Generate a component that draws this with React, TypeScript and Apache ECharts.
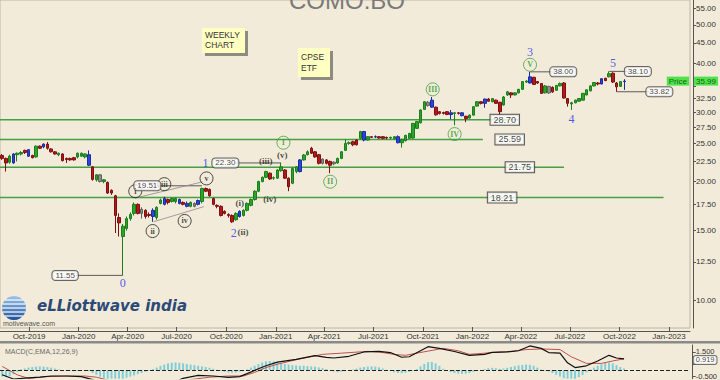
import React, { useEffect, useRef } from 'react';
import * as echarts from 'echarts';

const BG = '#f3ebd9';
const DAY = 86400000;
const WEEK = 7 * DAY;
const FIRST_WEEK = Date.UTC(2019, 7, 12);
const X_MIN = Date.UTC(2019, 7, 8);
const X_MAX = Date.UTC(2023, 1, 9);
const Y_MIN = 8.49;
const Y_MAX = 57.85;

// weekly candles: [open, close, low, high], first week 2019-08-12
const ohlc: number[][] = [
  [23.3, 22.9, 22.7, 23.5], [22.9, 22.3, 21.2, 23.0], [22.4, 23.2, 22.2, 23.4], [22.3, 23.5, 22.2, 23.6],
  [23.4, 23.6, 22.5, 23.7], [23.5, 23.7, 23.3, 23.9], [24.0, 23.7, 23.5, 24.1], [23.2, 24.1, 23.1, 24.2],
  [23.3, 23.0, 22.9, 23.4], [23.1, 24.6, 23.0, 24.7], [24.6, 24.3, 24.2, 24.7], [24.5, 24.9, 24.3, 25.0],
  [24.9, 24.3, 24.1, 25.2], [24.2, 23.8, 23.7, 24.3], [23.8, 23.5, 23.4, 23.9], [23.4, 23.6, 23.2, 23.7],
  [23.5, 22.6, 22.5, 23.6], [22.9, 22.75, 22.3, 23.0], [22.9, 22.7, 22.6, 23.0], [23.0, 22.7, 22.6, 23.1],
  [23.1, 23.6, 22.9, 23.7], [23.2, 23.6, 23.1, 23.7], [23.1, 23.5, 22.9, 23.6], [23.4, 22.0, 21.9, 24.0],
  [21.8, 20.25, 20.1, 21.9], [20.2, 20.8, 20.0, 20.9], [20.8, 20.0, 19.9, 20.9], [20.0, 20.2, 19.8, 20.3],
  [19.9, 18.7, 18.6, 20.0], [19.0, 18.7, 18.5, 19.1], [18.4, 16.4, 14.8, 18.5], [16.2, 15.7, 14.5, 16.6],
  [14.5, 15.4, 11.55, 15.6], [15.2, 16.1, 15.0, 16.3], [16.1, 16.5, 15.9, 16.7], [16.6, 17.5, 16.4, 17.7],
  [17.5, 16.6, 16.5, 17.6], [16.6, 17.0, 16.1, 17.2], [16.9, 16.3, 16.1, 17.0], [16.5, 16.4, 16.2, 16.7],
  [16.3, 16.9, 15.8, 17.1], [16.2, 17.2, 16.0, 17.3], [17.6, 17.95, 17.5, 18.1], [17.5, 18.1, 17.4, 18.3],
  [18.0, 17.7, 17.5, 18.1], [17.8, 18.1, 17.7, 18.2], [17.8, 18.1, 17.6, 18.2], [18.0, 17.6, 17.5, 18.1],
  [17.7, 17.5, 17.4, 17.8], [17.6, 17.3, 17.2, 17.8], [17.3, 17.7, 17.2, 17.8], [17.6, 17.3, 17.2, 17.7],
  [17.5, 17.9, 17.4, 18.0], [17.8, 19.2, 17.6, 19.3], [19.2, 18.9, 18.8, 19.3], [19.1, 18.4, 18.3, 19.2],
  [18.1, 17.5, 17.4, 18.2], [17.4, 17.3, 17.1, 17.5], [17.3, 16.4, 16.3, 17.4], [16.8, 16.6, 16.5, 16.9],
  [16.5, 16.4, 16.2, 16.6], [16.4, 15.8, 15.7, 16.5], [16.0, 16.6, 15.9, 16.7], [16.3, 16.8, 16.2, 16.9],
  [16.4, 16.9, 16.3, 17.0], [16.9, 17.6, 16.8, 17.7], [17.4, 18.0, 17.3, 18.1], [18.0, 18.9, 17.9, 19.0],
  [18.9, 20.0, 18.8, 20.1], [20.0, 20.5, 19.9, 20.6], [20.5, 21.2, 20.4, 21.3], [21.0, 20.3, 20.2, 21.1],
  [20.4, 20.45, 20.2, 20.6], [20.4, 21.4, 20.3, 21.5], [21.3, 21.8, 21.2, 22.3], [21.4, 20.4, 20.3, 21.5],
  [20.4, 19.4, 18.9, 20.5], [19.8, 21.6, 19.7, 21.7], [21.2, 21.8, 21.0, 21.9], [21.2, 22.7, 21.1, 22.8],
  [22.7, 23.36, 22.6, 23.5], [23.4, 23.8, 23.3, 24.0], [24.3, 23.6, 23.5, 24.5], [23.8, 23.1, 23.0, 23.9],
  [23.4, 22.25, 22.1, 23.5], [22.8, 22.25, 22.1, 22.9], [22.7, 22.25, 22.1, 22.8], [22.5, 22.0, 21.0, 22.6],
  [22.2, 22.4, 22.0, 22.5], [22.3, 22.9, 22.2, 23.0], [22.9, 23.8, 22.8, 23.9], [24.0, 25.0, 23.9, 25.6],
  [25.0, 25.1, 24.8, 25.3], [25.25, 24.8, 24.6, 25.4], [25.5, 24.8, 24.7, 25.6], [25.75, 26.8, 25.6, 26.9],
  [26.8, 25.5, 25.3, 26.9], [25.5, 26.0, 25.4, 26.1], [26.0, 25.9, 25.8, 26.1], [26.0, 25.95, 25.8, 26.2],
  [26.0, 25.8, 25.7, 26.1], [26.0, 25.75, 25.6, 26.1], [25.9, 25.8, 25.6, 26.0], [25.8, 25.9, 25.6, 26.0],
  [25.7, 26.0, 25.6, 26.1], [26.0, 25.1, 25.0, 26.2], [25.1, 25.6, 24.4, 25.7], [25.4, 26.2, 25.3, 26.3],
  [25.75, 26.5, 25.7, 26.6], [25.8, 28.1, 25.7, 28.2], [27.3, 28.4, 27.2, 28.5], [28.2, 30.4, 28.1, 30.5],
  [30.5, 31.9, 30.4, 32.0], [31.8, 31.2, 31.0, 32.0], [32.2, 30.9, 30.8, 32.8], [30.9, 29.55, 29.4, 31.0],
  [30.1, 29.8, 29.6, 30.2], [29.95, 29.8, 29.6, 30.1], [30.1, 29.6, 29.5, 30.2], [29.9, 29.6, 28.8, 30.4],
  [29.8, 29.9, 27.8, 30.0], [29.9, 29.8, 29.6, 30.0], [29.9, 29.4, 29.3, 30.0], [29.3, 28.9, 28.3, 29.4],
  [29.0, 29.5, 28.9, 29.6], [29.5, 31.0, 29.4, 31.1], [31.1, 31.9, 31.0, 32.0], [31.9, 31.6, 31.4, 32.0],
  [31.6, 32.4, 30.8, 32.5], [32.4, 32.0, 31.9, 32.6], [31.9, 32.5, 31.8, 32.6], [32.2, 31.6, 31.5, 32.3],
  [31.8, 30.1, 29.5, 31.9], [31.3, 32.8, 31.2, 33.0], [33.2, 33.8, 33.0, 34.0], [33.6, 33.2, 32.6, 33.7],
  [33.2, 33.6, 33.1, 33.7], [33.6, 34.3, 33.5, 34.4], [34.3, 35.9, 34.2, 36.0], [35.8, 36.0, 35.6, 36.2],
  [35.6, 36.9, 35.5, 38.0], [36.8, 35.3, 35.2, 36.9], [35.9, 35.6, 35.4, 36.0], [35.5, 33.5, 33.4, 35.6],
  [33.6, 35.0, 33.5, 35.2], [34.9, 33.6, 33.4, 35.0], [34.7, 33.8, 33.6, 34.9], [34.1, 35.1, 34.0, 35.2],
  [35.0, 35.5, 34.9, 35.7], [35.6, 32.6, 32.5, 35.8], [32.5, 31.6, 31.0, 32.6], [31.5, 31.7, 30.4, 31.9],
  [31.7, 32.2, 31.6, 32.3], [32.0, 32.5, 31.9, 32.6], [32.2, 33.5, 32.1, 33.6], [33.2, 34.2, 33.1, 34.3],
  [34.0, 35.0, 33.9, 35.1], [35.0, 35.7, 34.9, 35.8], [35.6, 35.4, 35.1, 35.8], [35.4, 36.5, 35.3, 36.6],
  [36.6, 36.1, 36.0, 36.7], [36.9, 37.6, 36.8, 38.1], [37.7, 35.8, 35.6, 37.9], [35.6, 34.8, 33.82, 35.8],
  [34.9, 35.9, 34.8, 36.0], [35.9, 35.99, 34.2, 36.4],
];
const blueCandles = [3, 7, 11, 23, 40, 43, 47, 49, 52, 63, 79, 96, 99, 105, 114, 119, 122, 128, 140, 159, 165];
const grayCandles = [26, 37, 51, 85, 88, 113, 145];

const lastPrice = 35.99;
const lastMacd = 0.919;

const xTickLabels = ['Oct-2019', 'Jan-2020', 'Apr-2020', 'Jul-2020', 'Oct-2020', 'Jan-2021', 'Apr-2021',
  'Jul-2021', 'Oct-2021', 'Jan-2022', 'Apr-2022', 'Jul-2022', 'Oct-2022', 'Jan-2023'];
const yTicks = [10, 12.5, 15, 17.5, 20, 22.5, 25, 27.5, 30, 32.5, 35, 40, 45, 50, 55];
// 35.00 sits under the last-price tag
const yTickLabels = [10, 12.5, 15, 17.5, 20, 22.5, 25, 27.5, 30, 32.5, 40, 45, 50, 55];
const macdTicks = [-0.5, 0.5, 1.5];
// 0.500 sits under the last-MACD tag
const macdTickLabels = [-0.5, 1.5];

// horizontal support levels
const levelValues = [28.70, 25.59, 21.75, 18.21];
const levelEndWeek = [137, 127.5, 149, 175.4];
const levelLabelWeek = [133.3, 134.6, 137.3, 132.6];

// price boxes with their connector lines
const boxText = ['11.55', '19.51', '22.30', '38.00', '38.10', '33.82'];
const boxValue = [11.55, 19.51, 22.30, 38.00, 38.10, 33.82];
const boxWeek = [16.7, 38.5, 59.2, 148.8, 168.6, 174.3];
const connFromWeek = [19.6, 41, 62, 140, 161, 163];
const connToWeek = [32, 53, 74, 146.2, 166, 171.7];

// wave labels
const waveNums = ['0', '1', '2', '3', '4', '5'];
const waveNumWeek = [32, 53.9, 61.4, 140, 151, 162];
const waveNumPrice = [11.05, 22.3, 14.8, 42.7, 28.8, 40.1];
const majorRoman = ['I', 'II', 'III', 'IV', 'V'];
const majorWeek = [74.6, 87, 114.2, 120, 140];
const majorPrice = [25.1, 19.98, 34.3, 26.4, 39.6];
const minorRoman = ['i', 'ii', 'iii', 'iv', 'v'];
const minorWeek = [35.3, 39.9, 43, 48.4, 54.2];
const minorPrice = [18.9, 14.97, 19.7, 15.88, 20.37];
const subRoman = ['(i)', '(ii)', '(iii)', '(iv)', '(v)'];
const subWeek = [63, 63.9, 69.9, 71, 74.3];
const subPrice = [17.6, 14.9, 22.6, 18.06, 23.4];

const wedgeUpper = [[35.3, 18.16], [53.1, 19.96]];
const wedgeLower = [[40.2, 15.81], [53.5, 17.27]];

// MACD(12,26,9) readings: [week, value]
const macdLine = [
  [0, -0.4], [3, -0.75], [7, -0.65], [10, -0.6], [13, -0.5], [17, -0.5], [21, -0.55], [24, -0.8],
  [28, -1.3], [32, -2.2], [38, -2.0], [44, -1.2], [48, -0.7], [52, -0.45], [56, -0.5], [60, -0.62],
  [63, -0.55], [65, -0.3], [68, 0.1], [70, 0.35], [73, 0.66], [78, 0.88], [83, 1.2], [86, 1.05],
  [88, 1.0], [92, 1.14], [96, 1.5], [100, 1.55], [103, 1.45], [106, 1.06], [108, 1.1], [113, 1.94],
  [116, 1.8], [120, 1.54], [124, 1.22], [128, 1.3], [130, 1.46], [134, 1.5], [137, 1.6], [140, 2.0],
  [143, 1.8], [145, 1.45], [148, 1.4], [150, 0.6], [152, 0.2], [155, 0.35], [158, 0.75], [161, 1.22],
  [163, 1.0], [165, 0.919],
];
const signalLine = [
  [0, 0.3], [4, -0.4], [7, -0.7], [12, -0.55], [18, -0.5], [22, -0.5], [25, -0.6], [30, -1.0],
  [36, -1.5], [44, -1.2], [50, -0.8], [55, -0.6], [60, -0.5], [64, -0.5], [67, -0.2], [70, 0.2],
  [73, 0.48], [79, 0.93], [85, 1.3], [90, 1.4], [97, 1.55], [100, 1.5], [104, 1.3], [107, 1.22],
  [110, 1.4], [117, 1.8], [121, 1.6], [124, 1.3], [130, 1.45], [135, 1.55], [139, 1.7], [143, 1.75],
  [148, 1.7], [151, 1.1], [155, 0.55], [159, 0.55], [162, 0.75], [165, 0.93],
];
const macdHist = [
  -0.55, -0.6, -0.5, -0.35, -0.15,
  0.05, 0.12, 0.2, 0.25, 0.28, 0.3, 0.28, 0.25, 0.2, 0.12, 0.05,
  -0.02, -0.05, -0.08, -0.1, -0.1, -0.08, -0.05, -0.1,
  -0.25, -0.4, -0.55, -0.7, -0.8, -0.8, -0.8, -0.8, -0.75, -0.65, -0.55, -0.45, -0.35, -0.25, -0.15, -0.05,
  0.08, 0.2, 0.35, 0.45, 0.55, 0.6, 0.62, 0.6, 0.55, 0.5, 0.45, 0.4, 0.35, 0.3, 0.25, 0.18, 0.1, 0.02,
  -0.08, -0.15, -0.2, -0.22, -0.2, -0.12, -0.05,
  0.05, 0.2, 0.35, 0.5, 0.62, 0.72, 0.75, 0.72, 0.65, 0.58, 0.5, 0.45, 0.4, 0.38,
  0.35, 0.35, 0.33, 0.3, 0.28, 0.22, 0.15, 0.08,
  -0.05, -0.12, -0.18, -0.15, -0.1, -0.05,
  0.05, 0.12, 0.2, 0.25, 0.28, 0.3, 0.28, 0.22, 0.12, 0.02, -0.08, -0.18, -0.25, -0.27,
  -0.22, -0.15, -0.05, 0.08,
  0.3, 0.5, 0.65, 0.67, 0.55, 0.35,
  0.1, -0.08, -0.18, -0.25, -0.3, -0.32, -0.3, -0.25, -0.15, -0.08, 0.0,
  0.08, 0.15, 0.18, 0.15, 0.1, 0.12, 0.18,
  0.25, 0.32, 0.38, 0.42, 0.45, 0.43, 0.35, 0.2, 0.05,
  -0.05, -0.12, -0.25, -0.4, -0.55, -0.68, -0.78, -0.8, -0.75, -0.6, -0.42, -0.2,
  0.05, 0.2, 0.35, 0.48, 0.58, 0.62, 0.55, 0.4, 0.25, 0.12,
];

const t = (w: number) => FIRST_WEEK + w * WEEK;
const MONTHS: Record<string, number> = { Jan: 0, Apr: 3, Jul: 6, Oct: 9 };
const xTickTimes = xTickLabels.map((s) => Date.UTC(+s.slice(4), MONTHS[s.slice(0, 3)], 1));

const SERIF = 'Liberation Serif';
const SANS = 'Liberation Sans';

function candleStyle(i: number) {
  if (blueCandles.includes(i)) {
    return { color: '#2a44e0', color0: '#2a44e0', borderColor: '#1a2c9e', borderColor0: '#1a2c9e' };
  }
  if (grayCandles.includes(i)) {
    return { color: '#8e8e8e', color0: '#8e8e8e', borderColor: '#5e5e5e', borderColor0: '#5e5e5e' };
  }
  return undefined;
}

function segment(a: number[], b: number[], color: string, width: number, z = 2) {
  return {
    type: 'line', xAxisIndex: 0, yAxisIndex: 0, silent: true, symbol: 'none', z,
    lineStyle: { color, width },
    data: [[t(a[0]), a[1]], [t(b[0]), b[1]]],
  };
}

function buildOption(): any {
  const series: any[] = [];

  levelValues.forEach((v, k) => {
    series.push({
      type: 'line', xAxisIndex: 0, yAxisIndex: 0, silent: true, symbol: 'none', z: 1,
      lineStyle: { color: '#45a045', width: 1.5 },
      data: [[X_MIN, v], [t(levelEndWeek[k]), v]],
    });
  });

  connFromWeek.forEach((w, k) => series.push(segment([w, boxValue[k]], [connToWeek[k], boxValue[k]], '#5a5a5a', 1, 3)));
  series.push(segment(wedgeUpper[0], wedgeUpper[1], '#8a8a8a', 0.8, 3));
  series.push(segment(wedgeLower[0], wedgeLower[1], '#8a8a8a', 0.8, 3));

  series.push({
    type: 'candlestick', xAxisIndex: 0, yAxisIndex: 0, z: 4, barWidth: 3,
    itemStyle: { color: '#2aa52a', color0: '#b3191b', borderColor: '#1c7d1c', borderColor0: '#7e1012', borderWidth: 1 },
    data: ohlc.map((v, i) => {
      const st = candleStyle(i);
      const item: any = { value: [t(i), v[0], v[1], v[2], v[3]] };
      if (st) item.itemStyle = st;
      return item;
    }),
  });

  const textScatter = (names: string[], weeks: number[], prices: number[], label: any) => ({
    type: 'scatter', xAxisIndex: 0, yAxisIndex: 0, silent: true, z: 6, symbolSize: 0,
    itemStyle: { color: 'transparent' },
    data: names.map((n, k) => ({ name: n, value: [t(weeks[k]), prices[k]] })),
    label: { show: true, position: 'inside', formatter: '{b}', ...label },
  });

  series.push(textScatter(levelValues.map((v) => v.toFixed(2)), levelLabelWeek, levelValues, {
    fontSize: 9, fontFamily: SANS, color: '#111', backgroundColor: '#ffffff', borderColor: '#333',
    borderWidth: 1, padding: [1, 3, 0, 3],
  }));
  series.push(textScatter(boxText, boxWeek, boxValue, {
    fontSize: 8, fontFamily: SANS, color: '#111', backgroundColor: '#ffffff', borderColor: '#444',
    borderWidth: 1, borderRadius: 3, padding: [1, 3, 0, 3],
  }));
  series.push(textScatter(waveNums, waveNumWeek, waveNumPrice, {
    fontSize: 12, fontFamily: SERIF, color: '#2233ee',
  }));
  series.push({
    type: 'scatter', xAxisIndex: 0, yAxisIndex: 0, silent: true, z: 6, symbol: 'circle', symbolSize: 13,
    itemStyle: { color: 'rgba(0,0,0,0)', borderColor: '#3da33d', borderWidth: 1 },
    data: majorRoman.map((n, k) => ({ name: n, value: [t(majorWeek[k]), majorPrice[k]] })),
    label: { show: true, position: 'inside', formatter: '{b}', fontSize: 8, fontWeight: 'bold', fontFamily: SERIF, color: '#2f9a2f' },
  });
  series.push({
    type: 'scatter', xAxisIndex: 0, yAxisIndex: 0, silent: true, z: 6, symbol: 'circle', symbolSize: 13,
    itemStyle: { color: 'rgba(0,0,0,0)', borderColor: '#222', borderWidth: 1 },
    data: minorRoman.map((n, k) => ({ name: n, value: [t(minorWeek[k]), minorPrice[k]] })),
    label: { show: true, position: 'inside', formatter: '{b}', fontSize: 8, fontWeight: 'bold', fontFamily: SERIF, color: '#222' },
  });
  series.push(textScatter(subRoman, subWeek, subPrice, {
    fontSize: 9, fontWeight: 'bold', fontFamily: SERIF, color: '#222',
  }));

  // last price tag
  series.push({
    type: 'scatter', xAxisIndex: 0, yAxisIndex: 0, silent: true, z: 8, symbolSize: 0, clip: false,
    itemStyle: { color: 'transparent' },
    data: [
      { name: lastPrice.toFixed(2), value: [X_MAX, lastPrice], label: { position: 'right', distance: 4 } },
      { name: 'Price', value: [X_MAX, lastPrice], label: { position: 'left', distance: 1 } },
    ],
    label: {
      show: true, formatter: '{b}', fontSize: 8, fontFamily: SANS, color: '#0a3a0a',
      backgroundColor: '#27e027', padding: [1, 2, 0, 2],
    },
  });

  // MACD panel
  series.push({
    type: 'bar', xAxisIndex: 1, yAxisIndex: 1, barWidth: 2, z: 2, silent: true,
    itemStyle: { color: '#7fcfd8' },
    data: macdHist.map((v, i) => [t(i), v]),
    markLine: {
      silent: true, symbol: 'none', label: { show: false },
      lineStyle: { type: 'dashed', color: '#222', width: 1 },
      data: [{ yAxis: 0 }],
    },
  });
  series.push({
    type: 'line', xAxisIndex: 1, yAxisIndex: 1, symbol: 'none', silent: true, z: 4,
    lineStyle: { color: '#c0504d', width: 1 },
    data: signalLine.map((p) => [t(p[0]), p[1]]),
  });
  series.push({
    type: 'line', xAxisIndex: 1, yAxisIndex: 1, symbol: 'none', silent: true, z: 5,
    lineStyle: { color: '#111', width: 1.2 },
    data: macdLine.map((p) => [t(p[0]), p[1]]),
  });
  series.push({
    type: 'scatter', xAxisIndex: 1, yAxisIndex: 1, silent: true, z: 8, symbolSize: 0, clip: false,
    itemStyle: { color: 'transparent' },
    data: [{ name: lastMacd.toFixed(3), value: [X_MAX, lastMacd] }],
    label: {
      show: true, position: 'right', distance: 4, formatter: '{b}', fontSize: 7.5, fontFamily: SANS, color: '#111',
      backgroundColor: '#fff', borderColor: '#555', borderWidth: 1, borderRadius: 2, padding: [0, 2, 0, 2],
      offset: [0, 1],
    },
  });

  const xLabelFor = (v: number) => {
    let best = 0;
    xTickTimes.forEach((tt, k) => { if (Math.abs(tt - v) < Math.abs(xTickTimes[best] - v)) best = k; });
    return xTickLabels[best];
  };

  const globeLines = [-8, -4, 0, 4, 8].map((dy) => {
    const r = 12;
    const half = Math.sqrt(r * r - dy * dy);
    return {
      type: 'line', shape: { x1: 14 - half, y1: 308 + dy, x2: 14 + half, y2: 308 + dy },
      style: { stroke: '#ffffff', lineWidth: 1.2 },
    };
  });

  return {
    animation: false,
    backgroundColor: BG,
    textStyle: { fontFamily: SANS },
    grid: [
      { left: 0, right: 30, top: 0, height: 328, show: true, borderColor: '#bdb4a2', borderWidth: 1, backgroundColor: 'transparent' },
      { left: 0, right: 30, top: 345, height: 35 },
    ],
    xAxis: [
      {
        type: 'value', gridIndex: 0, min: X_MIN, max: X_MAX, offset: 3, scale: true,
        splitLine: { show: false },
        axisLine: { show: true, onZero: false, lineStyle: { color: '#555' } },
        axisTick: { show: true, inside: true, length: 4, customValues: xTickTimes, lineStyle: { color: '#555' } },
        axisLabel: { customValues: xTickTimes, formatter: xLabelFor, fontSize: 8, color: '#333', margin: 1 },
      },
      { type: 'value', gridIndex: 1, min: X_MIN, max: X_MAX, scale: true, show: false },
    ],
    yAxis: [
      {
        type: 'log', gridIndex: 0, position: 'right', min: Y_MIN, max: Y_MAX, offset: 3,
        splitLine: { show: false },
        axisLine: { show: true, lineStyle: { color: '#555' } },
        axisTick: { show: true, length: 3, customValues: yTicks, lineStyle: { color: '#555' } },
        axisLabel: { customValues: yTickLabels, formatter: (v: number) => v.toFixed(2), fontSize: 8, color: '#333', margin: 3 },
      },
      {
        type: 'value', gridIndex: 1, position: 'right', min: -0.72, max: 2.08, offset: 3,
        splitLine: { show: false },
        axisLine: { show: true, lineStyle: { color: '#555' } },
        axisTick: { show: true, length: 3, customValues: macdTicks, lineStyle: { color: '#555' } },
        axisLabel: { customValues: macdTickLabels, formatter: (v: number) => v.toFixed(3), fontSize: 7.5, color: '#333', margin: 3 },
      },
    ],
    series,
    graphic: [
      { type: 'rect', shape: { x: 0, y: 341, width: 720, height: 2.5 }, style: { fill: '#8a8a8a' }, silent: true },
      { type: 'text', x: 5, y: 351, style: { text: 'MACD(C,EMA,12,26,9)', fontSize: 7, fontFamily: SANS, fill: '#6a6a6a', verticalAlign: 'middle' } },
      { type: 'text', x: 289, y: 12, style: { text: 'COMO.BO', fontSize: 24, fontFamily: SANS, fill: '#7a7a7a', verticalAlign: 'bottom' } },
      { type: 'rect', shape: { x: 205, y: 31, width: 43, height: 25 }, style: { fill: '#8e8b80' } },
      { type: 'rect', shape: { x: 202, y: 28, width: 43, height: 25 }, style: { fill: '#ffffc2' } },
      { type: 'text', x: 205, y: 34.5, style: { text: 'WEEKLY', fontSize: 8.5, fontFamily: SANS, fill: '#333', verticalAlign: 'middle' } },
      { type: 'text', x: 205, y: 45, style: { text: 'CHART', fontSize: 8.5, fontFamily: SANS, fill: '#333', verticalAlign: 'middle' } },
      { type: 'rect', shape: { x: 301, y: 51, width: 32, height: 29 }, style: { fill: '#8e8b80' } },
      { type: 'rect', shape: { x: 298, y: 48, width: 32, height: 29 }, style: { fill: '#ffffc2' } },
      { type: 'text', x: 301, y: 56.5, style: { text: 'CPSE', fontSize: 8.5, fontFamily: SANS, fill: '#333', verticalAlign: 'middle' } },
      { type: 'text', x: 301, y: 67.5, style: { text: 'ETF', fontSize: 8.5, fontFamily: SANS, fill: '#333', verticalAlign: 'middle' } },
      {
        type: 'circle', shape: { cx: 14, cy: 308, r: 12 },
        style: {
          fill: new echarts.graphic.LinearGradient(0, 0, 0, 1, [
            { offset: 0, color: '#9cc6ee' }, { offset: 1, color: '#1d4f9a' },
          ]),
        },
      },
      ...globeLines,
      {
        type: 'text', x: 37, y: 306,
        style: { text: 'eLLiottwave india', fontSize: 15, fontStyle: 'italic', fontWeight: 'bold', fontFamily: 'DejaVu Sans', fill: '#2b4a78', verticalAlign: 'middle' },
      },
      { type: 'text', x: 3, y: 323, style: { text: 'motivewave.com', fontSize: 7, fontFamily: SANS, fill: '#555', verticalAlign: 'middle' } },
    ],
  };
}

export default function App() {
  const ref = useRef<HTMLDivElement>(null);
  useEffect(() => {
    if (!ref.current) return;
    const chart = echarts.init(ref.current, null, { renderer: 'svg' });
    chart.setOption(buildOption());
    return () => chart.dispose();
  }, []);
  return <div ref={ref} style={{ position: 'fixed', left: 0, top: 0, width: 720, height: 380, background: BG }} />;
}
